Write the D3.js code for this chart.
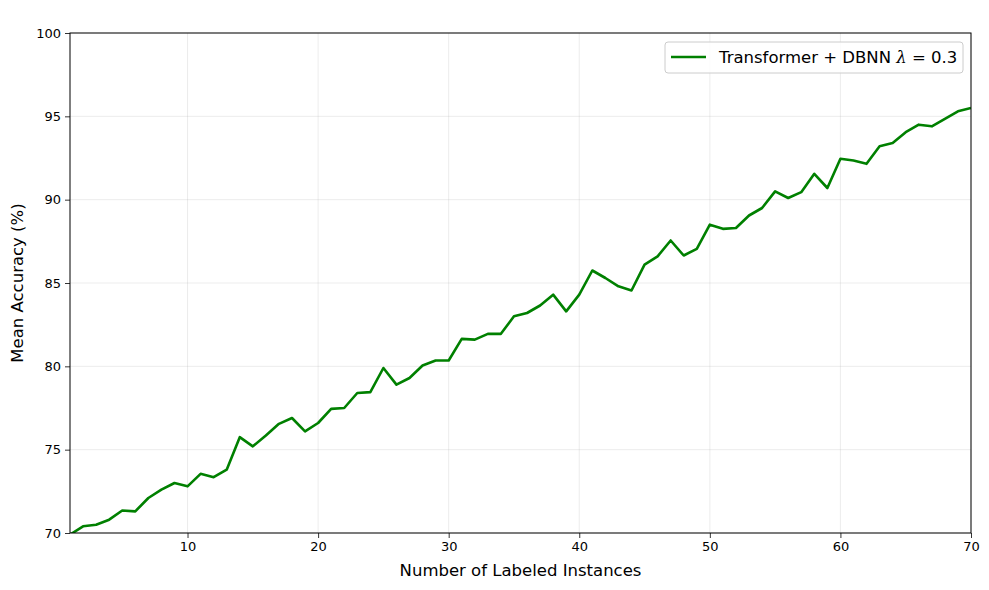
<!DOCTYPE html>
<html><head><meta charset="utf-8">
<script src="https://cdn.jsdelivr.net/npm/d3@7"></script>
<style>body{margin:0;background:#fff;} svg{display:block;font-family:"DejaVu Sans",sans-serif;}</style>
</head><body>
<svg id="c" width="989" height="590"></svg>
<script>
const instances = d3.range(1, 71);
const accuracy = [69.9,70.4,70.5,70.8,71.35,71.3,72.1,72.6,73.0,72.8,
73.55,73.35,73.8,75.75,75.2,75.85,76.55,76.9,76.1,76.6,
77.45,77.5,78.4,78.45,79.9,78.9,79.3,80.05,80.35,80.35,
81.65,81.6,81.95,81.95,83.0,83.2,83.65,84.3,83.3,84.3,
85.75,85.3,84.8,84.55,86.1,86.6,87.55,86.65,87.05,88.5,
88.25,88.3,89.05,89.5,90.5,90.1,90.45,91.55,90.7,92.45,
92.35,92.15,93.2,93.4,94.05,94.5,94.4,94.85,95.3,95.5];
const xTicks = [10,20,30,40,50,60,70];
const yTicks = [70,75,80,85,90,95,100];
const seriesName = "Transformer + DBNN ";

const svg = d3.select("#c");
const L=70,R=971,T=33,B=533;
const x = d3.scaleLinear().domain([1,70]).range([L,R]);
const y = d3.scaleLinear().domain([70,100]).range([B,T]);

// grid
svg.append("g").selectAll("line").data(xTicks).join("line")
  .attr("x1",d=>x(d)).attr("x2",d=>x(d)).attr("y1",T).attr("y2",B)
  .attr("stroke","#b0b0b0").attr("stroke-opacity",0.3).attr("stroke-width",0.8);
svg.append("g").selectAll("line").data(yTicks).join("line")
  .attr("y1",d=>y(d)).attr("y2",d=>y(d)).attr("x1",L).attr("x2",R)
  .attr("stroke","#b0b0b0").attr("stroke-opacity",0.3).attr("stroke-width",0.8);

const defs = svg.append("defs");
defs.append("clipPath").attr("id","clip").append("rect").attr("x",L).attr("y",T).attr("width",R-L).attr("height",B-T);

svg.append("path").datum(instances.map((n,i)=>[n,accuracy[i]]))
  .attr("clip-path","url(#clip)")
  .attr("fill","none").attr("stroke","#008000").attr("stroke-width",2.6)
  .attr("stroke-linejoin","round")
  .attr("d", d3.line().x(d=>x(d[0])).y(d=>y(d[1])));

// axes
const xa = svg.append("g").attr("transform",`translate(0,${B})`)
  .call(d3.axisBottom(x).tickValues(xTicks).tickSize(5).tickPadding(4));
const ya = svg.append("g").attr("transform",`translate(${L},0)`)
  .call(d3.axisLeft(y).tickValues(yTicks).tickSize(5).tickPadding(4));
[xa,ya].forEach(a=>{
  a.select(".domain").remove();
  a.selectAll("text").attr("font-size",13).attr("fill","#000").attr("font-family","DejaVu Sans");
  a.selectAll("line").attr("stroke","#000").attr("stroke-width",0.8);
});
svg.append("rect").attr("x",L).attr("y",T).attr("width",R-L).attr("height",B-T)
  .attr("fill","none").attr("stroke","#000").attr("stroke-width",1);

svg.append("text").attr("x",(L+R)/2).attr("y",576).attr("text-anchor","middle")
  .attr("font-size",16.5).text("Number of Labeled Instances");
svg.append("text").attr("transform",`translate(23,${(T+B)/2}) rotate(-90)`).attr("text-anchor","middle")
  .attr("font-size",16.5).text("Mean Accuracy (%)");

// legend
const lg = svg.append("g");
lg.append("rect").attr("x",665).attr("y",42).attr("width",298).attr("height",31).attr("rx",3)
  .attr("fill","#fff").attr("fill-opacity",0.8).attr("stroke","#cccccc").attr("stroke-width",1);
lg.append("line").attr("x1",671).attr("x2",706).attr("y1",57).attr("y2",57)
  .attr("stroke","#008000").attr("stroke-width",2.6);
const lt = lg.append("text").attr("x",719).attr("y",63).attr("font-size",16.5);
lt.append("tspan").text(seriesName);
lt.append("tspan").attr("font-style","italic").attr("font-family","DejaVu Serif").text("λ");
lt.append("tspan").text(" = 0.3");
</script>
</body></html>
